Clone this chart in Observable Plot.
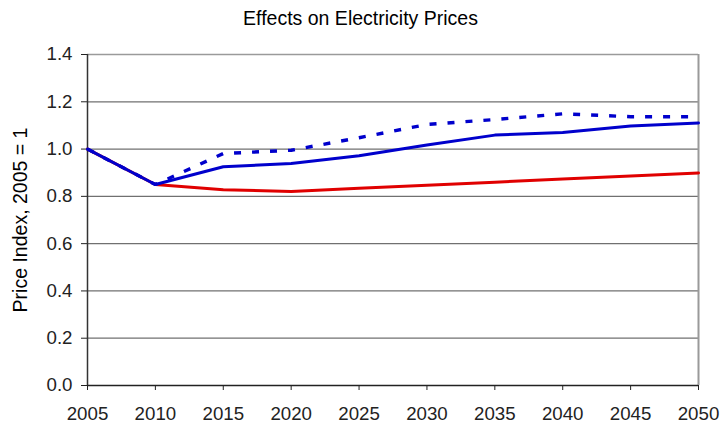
<!DOCTYPE html>
<html>
<head>
<meta charset="utf-8">
<script src="https://cdn.jsdelivr.net/npm/d3@7"></script>
<script src="https://cdn.jsdelivr.net/npm/@observablehq/plot@0.6"></script>
<style>
  body { margin: 0; background: #fff; font-family: "Liberation Sans", Arial, sans-serif; }
  #title { width: 721px; height: 34px; line-height: 34px; padding-top: 1px; box-sizing: border-box;
           text-align: center; font-size: 19.5px; color: #000; }
</style>
</head>
<body>
<div id="title">Effects on Electricity Prices</div>
<div id="chart"></div>
<script>
const years = [2005, 2010, 2015, 2020, 2025, 2030, 2035, 2040, 2045, 2050];
const redSeries = [1.0, 0.85, 0.828, 0.821, 0.834, 0.847, 0.860, 0.873, 0.886, 0.899];
const blueSolid = [1.0, 0.85, 0.925, 0.939, 0.972, 1.017, 1.059, 1.070, 1.098, 1.110];
const blueDashed = [1.0, 0.85, 0.981, 0.995, 1.048, 1.104, 1.125, 1.149, 1.137, 1.137];
const yTicks = [0, 0.2, 0.4, 0.6, 0.8, 1.0, 1.2, 1.4];
const gridTicks = [0.2, 0.4, 0.6, 0.8, 1.0, 1.2];
const yLabel = "Price Index, 2005 = 1";

const toRows = (vals) => years.map((yr, i) => ({year: yr, value: vals[i]}));

const chart = Plot.plot({
  width: 721,
  height: 389,
  marginLeft: 87,
  marginRight: 23,
  marginTop: 20,
  marginBottom: 38,
  style: {fontFamily: "Liberation Sans, Arial, sans-serif", fontSize: "18.7px", color: "#222", background: "#fff", overflow: "visible"},
  x: {domain: [2005, 2050]},
  y: {domain: [0, 1.4]},
  marks: [
    Plot.ruleY(gridTicks, {stroke: "#707070", strokeWidth: 1.2}),
    Plot.ruleY([1.4], {stroke: "#9a9a9a", strokeWidth: 1.5}),
    Plot.ruleX([2050], {stroke: "#9a9a9a", strokeWidth: 2}),
    Plot.axisX({ticks: years, tickFormat: "d", tickSize: 5, tickPadding: 16, label: null, fontSize: "18.7px"}),
    Plot.axisY({ticks: yTicks, tickFormat: ".1f", tickSize: 6, tickPadding: 9, label: null, fontSize: "18.7px"}),
    Plot.ruleX([2005], {stroke: "#333", strokeWidth: 1.5}),
    Plot.ruleY([0], {stroke: "#222", strokeWidth: 1.5}),
    Plot.line(toRows(redSeries), {x: "year", y: "value", stroke: "#e00000", strokeWidth: 3, strokeLinejoin: "round"}),
    Plot.line(toRows(blueSolid), {x: "year", y: "value", stroke: "#0000cc", strokeWidth: 3, strokeLinejoin: "round"}),
    Plot.line(toRows(blueDashed), {x: "year", y: "value", stroke: "#0000cc", strokeWidth: 3.4, strokeDasharray: "7,11", strokeLinecap: "butt", strokeLinejoin: "miter"}),
    Plot.text([yLabel], {frameAnchor: "left", textAnchor: "middle", dx: -67, rotate: -90, fontSize: 19.5, fill: "#000", text: d => d})
  ]
});
document.getElementById("chart").appendChild(chart);
</script>
</body>
</html>
